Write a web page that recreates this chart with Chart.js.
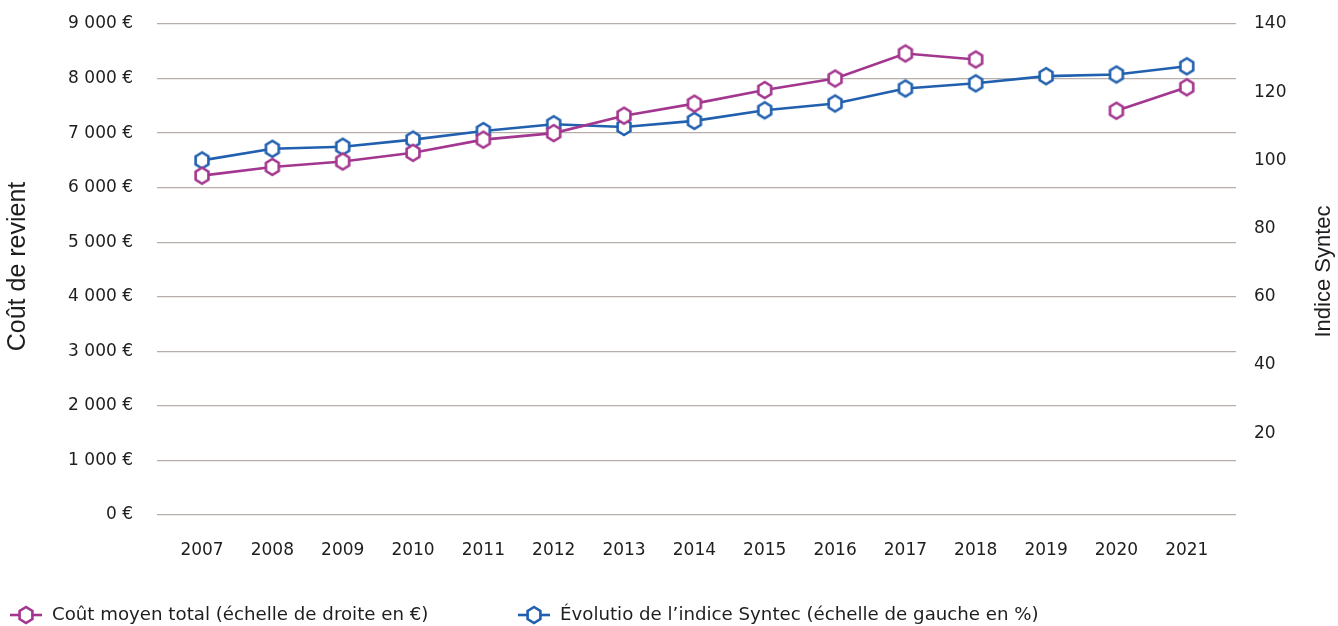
<!DOCTYPE html>
<html lang="fr">
<head>
<meta charset="utf-8">
<script src="https://cdn.jsdelivr.net/npm/chart.js@4.4.1/dist/chart.umd.min.js"></script>
<style>
  html, body { margin: 0; padding: 0; background: #fff; }
</style>
</head>
<body>
<canvas id="chart" width="1338" height="626"></canvas>
<script>
// Data
const years = [2007, 2008, 2009, 2010, 2011, 2012, 2013, 2014, 2015, 2016, 2017, 2018, 2019, 2020, 2021];
const coutMoyen = [6220, 6380, 6480, 6640, 6880, 7000, 7320, 7540, 7790, 8000, 8460, 8350, null, 7410, 7840];
const indiceSyntec = [100, 103.4, 104, 106.1, 108.6, 110.6, 109.8, 111.6, 114.7, 116.7, 121.1, 122.6, 124.7, 125.2, 127.6];
const leftTicks = [0, 1000, 2000, 3000, 4000, 5000, 6000, 7000, 8000, 9000];
const rightTicks = [20, 40, 60, 80, 100, 120, 140];
const seriesLabels = [
    'Coût moyen total (échelle de droite en €)',
    'Évolutio de l’indice Syntec (échelle de gauche en %)',
];
const leftTitle = 'Coût de revient';
const rightTitle = 'Indice Syntec';

const MAGENTA = '#a3368f';
const BLUE = '#2160ae';
const FONT = "'DejaVu Sans', sans-serif";
const TITLE_FONT = "'Liberation Sans', Arial, sans-serif";
const TEXT = '#1e1e1e';

// Hexagon marker (pointy top), white inside
function makeHex(color) {
    const c = document.createElement('canvas');
    c.width = 22;
    c.height = 22;
    const g = c.getContext('2d');
    g.beginPath();
    for (let i = 0; i < 6; i++) {
        const a = Math.PI / 2 + (i * Math.PI) / 3;
        const x = 11 + 7.4 * Math.cos(a);
        const y = 11 - 8 * Math.sin(a);
        if (i === 0) g.moveTo(x, y);
        else g.lineTo(x, y);
    }
    g.closePath();
    g.fillStyle = '#fff';
    g.fill();
    g.lineWidth = 2.6;
    g.strokeStyle = color;
    g.stroke();
    return c;
}
const hexMagenta = makeHex(MAGENTA);
const hexBlue = makeHex(BLUE);

function euro(v) {
    return String(v).replace(/\B(?=(\d{3})+(?!\d))/g, ' ') + ' €';
}

function verticalText(ctx, text, x, y, size) {
    ctx.save();
    ctx.fillStyle = TEXT;
    ctx.font = `${size}px ${TITLE_FONT}`;
    ctx.textAlign = 'center';
    ctx.textBaseline = 'middle';
    ctx.translate(x, y);
    ctx.rotate(-Math.PI / 2);
    ctx.fillText(text, 0, 0);
    ctx.restore();
}

// Axis titles (both read bottom to top) and legend
const extras = {
    id: 'extras',
    afterDraw(chart) {
        const ctx = chart.ctx;
        const area = chart.chartArea;
        const midY = (area.top + area.bottom) / 2;
        verticalText(ctx, leftTitle, 18, midY - 3, 25);
        verticalText(ctx, rightTitle, 1324, midY + 2, 22);

        const items = [
            { x: 10, color: MAGENTA, hex: hexMagenta, text: seriesLabels[0] },
            { x: 518, color: BLUE, hex: hexBlue, text: seriesLabels[1] },
        ];
        const ly = 615;
        ctx.save();
        ctx.font = `18.2px ${FONT}`;
        ctx.textBaseline = 'middle';
        ctx.textAlign = 'left';
        items.forEach((it) => {
            ctx.strokeStyle = it.color;
            ctx.lineWidth = 2.6;
            ctx.beginPath();
            ctx.moveTo(it.x, ly);
            ctx.lineTo(it.x + 32, ly);
            ctx.stroke();
            ctx.drawImage(it.hex, it.x + 5, ly - 11);
            ctx.fillStyle = TEXT;
            ctx.fillText(it.text, it.x + 42, ly);
        });
        ctx.restore();
    },
};

const tickFont = { family: FONT, size: 17 };

// keep the plot area where the reference has it
function fixWidth(w) {
    return (s) => {
        s.width = w;
        s.paddingTop = 0;
        s.paddingBottom = 0;
    };
}

new Chart(document.getElementById('chart'), {
    type: 'line',
    data: {
        datasets: [
            {
                label: seriesLabels[0],
                data: years.map((y, i) => ({ x: y, y: coutMoyen[i] })),
                yAxisID: 'y',
                borderColor: MAGENTA,
                borderWidth: 2.6,
                pointStyle: hexMagenta,
                spanGaps: false,
                tension: 0,
            },
            {
                label: seriesLabels[1],
                data: years.map((y, i) => ({ x: y, y: indiceSyntec[i] })),
                yAxisID: 'y2',
                borderColor: BLUE,
                borderWidth: 2.6,
                pointStyle: hexBlue,
                tension: 0,
            },
        ],
    },
    options: {
        responsive: false,
        animation: false,
        layout: { padding: { top: 24, bottom: 61, left: 0, right: 0 } },
        plugins: {
            legend: { display: false },
            tooltip: { enabled: false },
        },
        scales: {
            x: {
                type: 'linear',
                min: 2006.36,
                max: 2021.7,
                afterBuildTicks: (axis) => {
                    axis.ticks = years.map((v) => ({ value: v }));
                },
                afterFit: (s) => {
                    s.height = 50;
                },
                grid: { display: false },
                border: { display: false },
                ticks: {
                    font: tickFont,
                    color: TEXT,
                    padding: 17,
                    maxRotation: 0,
                    autoSkip: false,
                    callback: (v) => String(v),
                },
            },
            y: {
                position: 'left',
                min: 0,
                max: 9000,
                afterBuildTicks: (axis) => {
                    axis.ticks = leftTicks.map((v) => ({ value: v }));
                },
                afterFit: fixWidth(157),
                grid: { color: '#b6aeab', lineWidth: 1.3, drawTicks: false },
                border: { display: false },
                ticks: {
                    font: tickFont,
                    color: TEXT,
                    padding: 24,
                    callback: (v) => euro(v),
                },
            },
            y2: {
                position: 'right',
                min: -4,
                max: 140,
                afterBuildTicks: (axis) => {
                    axis.ticks = rightTicks.map((v) => ({ value: v }));
                },
                afterFit: fixWidth(102),
                grid: { display: false, drawTicks: false },
                border: { display: false },
                ticks: {
                    font: tickFont,
                    color: TEXT,
                    padding: 18,
                },
            },
        },
        elements: {
            point: { radius: 8, hoverRadius: 8 },
        },
    },
    plugins: [extras],
});
</script>
</body>
</html>
